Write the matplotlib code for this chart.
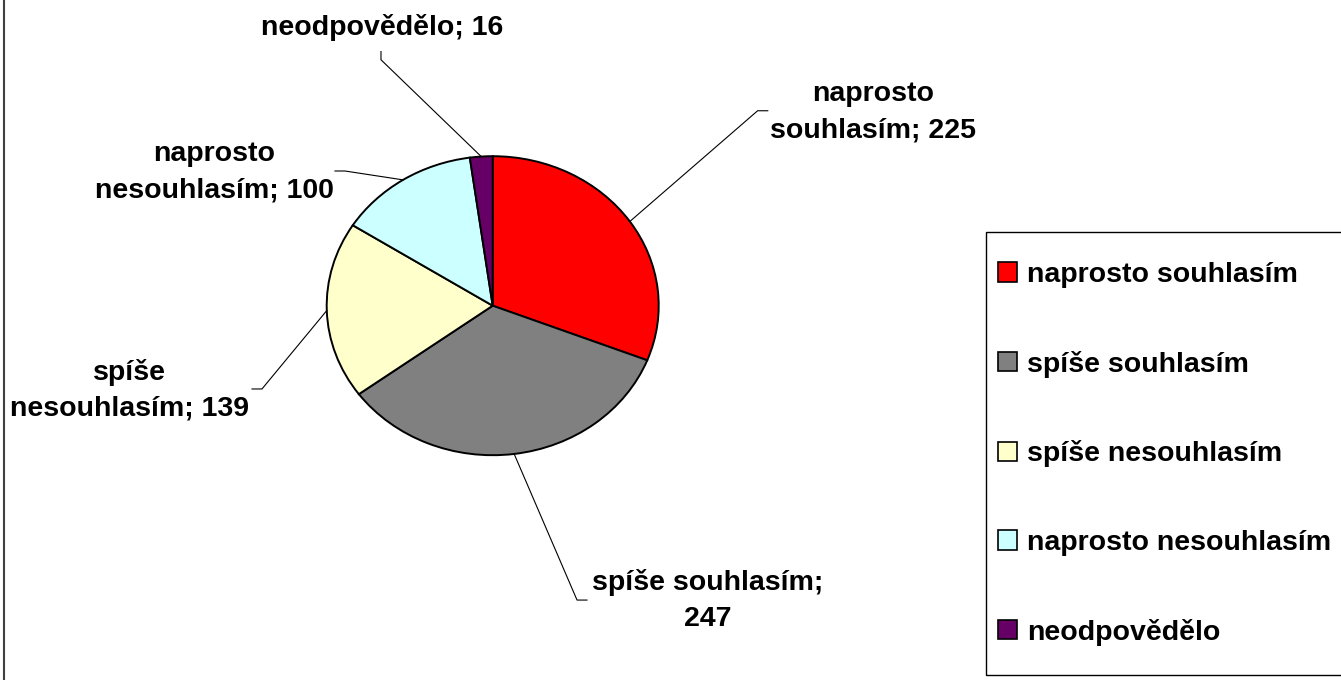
import numpy as np
import matplotlib
matplotlib.use("Agg")
import matplotlib.pyplot as plt
from matplotlib.lines import Line2D
from matplotlib.patches import Rectangle

plt.rcParams['font.family'] = ['Liberation Sans', 'DejaVu Sans']

# data
categories = ['naprosto souhlasím', 'spíše souhlasím', 'spíše nesouhlasím',
              'naprosto nesouhlasím', 'neodpovědělo']
values = [225, 247, 139, 100, 16]
colors = ['#FF0000', '#808080', '#FFFFCC', '#CCFFFF', '#660066']
label_texts = ['naprosto\nsouhlasím; 225', 'spíše souhlasím;\n247',
               'spíše\nnesouhlasím; 139', 'naprosto\nnesouhlasím; 100',
               'neodpovědělo; 16']

W, H = 1341, 680
fig = plt.figure(figsize=(W / 100, H / 100), dpi=100)
ax = fig.add_axes([0, 0, 1, 1])

# pie centre / radii in pixels (the pie is drawn as an ellipse)
cx, cy, rx, ry = 492.7, 305.7, 166.0, 149.5

wedges, _ = ax.pie(values, colors=colors, startangle=90, counterclock=False,
                   radius=1.0, center=(0, 0),
                   wedgeprops=dict(edgecolor='black', linewidth=1.4))
ax.set_aspect('auto')
ax.set_position([0, 0, 1, 1])
ax.set_xlim(-cx / rx, (W - cx) / rx)
ax.set_ylim(-(H - cy) / ry, cy / ry)
ax.axis('off')

FS = 20.5

# label layout: text centre, elbow, end of short tick (data units)
label_pos = [(2.291, 1.295), (1.297, -1.969), (-2.19, -0.564), (-1.678, 0.894), (-0.667, 1.858)]
elbows = [(1.596, 1.304), (0.508, -1.969), (-1.39, -0.557), (-0.89, 0.901), (-0.673, 1.645)]
ends = [(1.657, 1.304), (0.568, -1.969), (-1.45, -0.557), (-0.95, 0.901), (-0.673, 1.70)]

for w, txt, lp, el, en in zip(wedges, label_texts, label_pos, elbows, ends):
    mid = np.deg2rad((w.theta1 + w.theta2) / 2)
    ax0, ay0 = np.cos(mid), np.sin(mid)
    ax.plot([ax0, el[0], en[0]], [ay0, el[1], en[1]], color='black', lw=0.8,
            solid_joinstyle='miter')
    ax.text(lp[0], lp[1], txt, ha='center', va='center', fontsize=FS,
            fontweight='bold', linespacing=1.5)

# legend (frame drawn separately)
handles = [plt.Rectangle((0, 0), 1, 1, facecolor=c, edgecolor='black', linewidth=1.2)
           for c in colors]
leg = fig.legend(handles, categories, loc='upper left',
                 bbox_to_anchor=(998 / W, 1 - 262 / H),
                 prop={'family': 'Liberation Sans', 'weight': 'bold', 'size': FS},
                 frameon=False, handlelength=0.68, handleheight=0.68,
                 handletextpad=0.35, labelspacing=2.2, borderpad=0,
                 borderaxespad=0)
fig.add_artist(Rectangle((986 / W, 1 - 675 / H), (W + 5 - 986) / W, (675 - 232) / H,
                         transform=fig.transFigure, fill=False,
                         edgecolor='black', lw=1.0))

# left frame line of the chart area
fig.add_artist(Line2D([3.5 / W, 3.5 / W], [0, 1], color='#404040', lw=1.5))

fig.savefig('out.png', dpi=100)
